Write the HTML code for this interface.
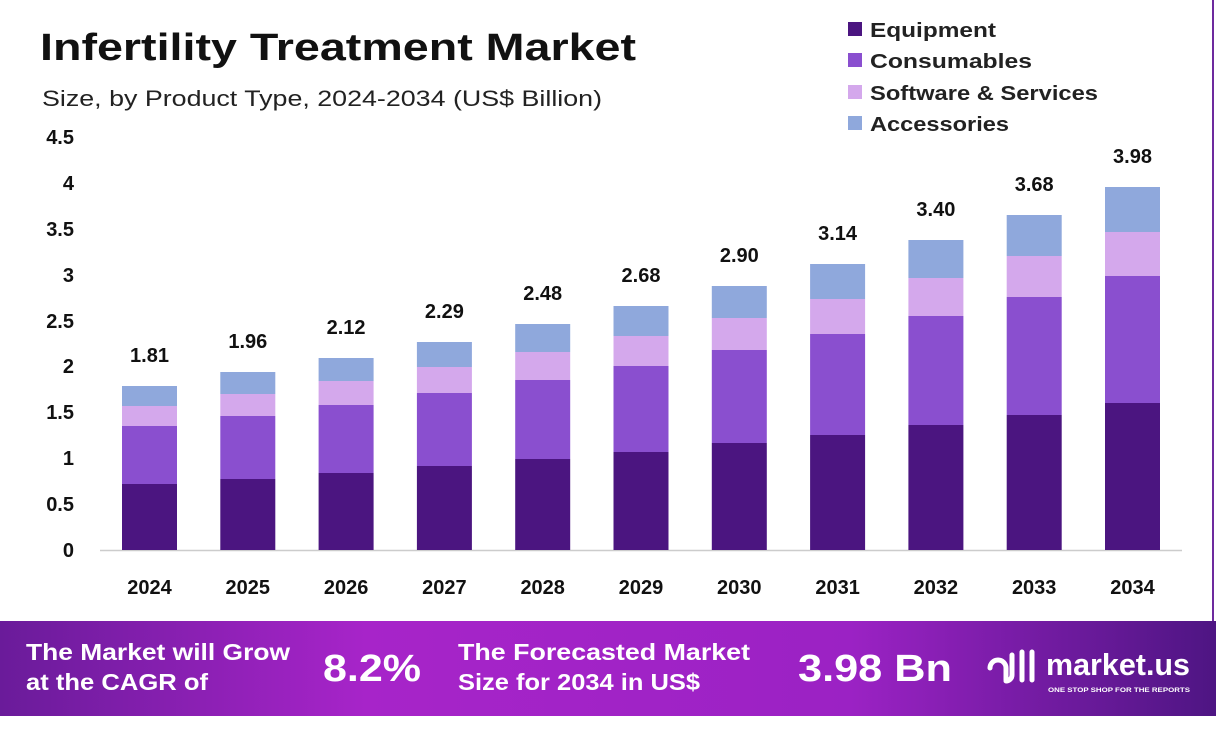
<!DOCTYPE html>
<html><head><meta charset="utf-8"><style>
html,body{margin:0;padding:0;background:#fff}
svg text{font-family:"Liberation Sans",sans-serif}
</style></head><body>
<svg width="1216" height="725" viewBox="0 0 1216 725" xmlns="http://www.w3.org/2000/svg">
<defs>
<linearGradient id="bg" x1="0" x2="1" y1="0" y2="0">
<stop offset="0" stop-color="#6a1b9a"/><stop offset="0.3" stop-color="#a724c9"/><stop offset="0.7" stop-color="#9b22c4"/><stop offset="1" stop-color="#4e1583"/>
</linearGradient>
</defs>
<rect x="0" y="0" width="1216" height="725" fill="#fff"/>
<line x1="1213" y1="0" x2="1213" y2="621" stroke="#6d2a9e" stroke-width="2"/>
<text x="40" y="60" font-size="38" font-weight="bold" fill="#111" textLength="596" lengthAdjust="spacingAndGlyphs">Infertility Treatment Market</text>
<text x="42" y="106" font-size="22" fill="#222" textLength="560" lengthAdjust="spacingAndGlyphs">Size, by Product Type, 2024-2034 (US$ Billion)</text>
<g font-size="20" font-weight="bold" fill="#222">
<rect x="848" y="22" width="14" height="14" fill="#4b1580"/><text x="870" y="37" textLength="126" lengthAdjust="spacingAndGlyphs">Equipment</text>
<rect x="848" y="53" width="14" height="14" fill="#8a4fcf"/><text x="870" y="68" textLength="162" lengthAdjust="spacingAndGlyphs">Consumables</text>
<rect x="848" y="85" width="14" height="14" fill="#d4a8ec"/><text x="870" y="100" textLength="228" lengthAdjust="spacingAndGlyphs">Software &amp; Services</text>
<rect x="848" y="116" width="14" height="14" fill="#8fa8dc"/><text x="870" y="131" textLength="139" lengthAdjust="spacingAndGlyphs">Accessories</text>
</g>
<g font-size="20" font-weight="bold" fill="#111" text-anchor="end">
<text x="74" y="557">0</text><text x="74" y="511">0.5</text><text x="74" y="465">1</text><text x="74" y="419">1.5</text><text x="74" y="373">2</text><text x="74" y="328">2.5</text><text x="74" y="282">3</text><text x="74" y="236">3.5</text><text x="74" y="190">4</text><text x="74" y="144">4.5</text>
</g>
<line x1="100" y1="550.5" x2="1182" y2="550.5" stroke="#ccc" stroke-width="1.5"/>
<g id="bars"></g>
<rect x="0" y="621" width="1216" height="95" fill="url(#bg)"/>
<g fill="#fff" font-weight="bold">
<text x="26" y="660" font-size="23" textLength="264" lengthAdjust="spacingAndGlyphs">The Market will Grow</text>
<text x="26" y="690" font-size="23" textLength="182" lengthAdjust="spacingAndGlyphs">at the CAGR of</text>
<text x="323" y="681" font-size="38" textLength="98" lengthAdjust="spacingAndGlyphs">8.2%</text>
<text x="458" y="660" font-size="23" textLength="292" lengthAdjust="spacingAndGlyphs">The Forecasted Market</text>
<text x="458" y="690" font-size="23" textLength="242" lengthAdjust="spacingAndGlyphs">Size for 2034 in US$</text>
<text x="798" y="681" font-size="38" textLength="154" lengthAdjust="spacingAndGlyphs">3.98 Bn</text>
<text x="1046" y="675" font-size="31" textLength="144" lengthAdjust="spacingAndGlyphs">market.us</text>
<text x="1048" y="692" font-size="6.5" textLength="142" lengthAdjust="spacingAndGlyphs">ONE STOP SHOP FOR THE REPORTS</text>
<path d="M990 668 a8 8 0 0 1 16 0 v12 M1012 655 v20 a6 6 0 0 1 -6 6 M1022 652 v28 M1032 652 v28" stroke="#fff" stroke-width="5" fill="none" stroke-linecap="round"/>
</g>
</svg>
<script>
var d=[[484,426,406,386,"1.81"],[479,416,394,372,"1.96"],[473,405,381,358,"2.12"],[466,393,367,342,"2.29"],[459,380,352,324,"2.48"],[452,366,336,306,"2.68"],[443,350,318,286,"2.90"],[435,334,299,264,"3.14"],[425,316,278,240,"3.40"],[415,297,256,215,"3.68"],[403,276,232,187,"3.98"]];
var c=["#4b1580","#8a4fcf","#d4a8ec","#8fa8dc"],s="";
d.forEach(function(b,i){var x=122+i*98.3,prev=550;
for(var k=0;k<4;k++){s+='<rect x="'+x+'" y="'+b[k]+'" width="55" height="'+(prev-b[k])+'" fill="'+c[k]+'"/>';prev=b[k];}
s+='<text x="'+(x+27.5)+'" y="'+(b[3]-24)+'" font-size="20" font-weight="bold" text-anchor="middle" fill="#111">'+b[4]+'</text>';
s+='<text x="'+(x+27.5)+'" y="594" font-size="20" font-weight="bold" text-anchor="middle" fill="#111">'+(2024+i)+'</text>';});
document.getElementById("bars").innerHTML=s;
</script>
</body></html>
